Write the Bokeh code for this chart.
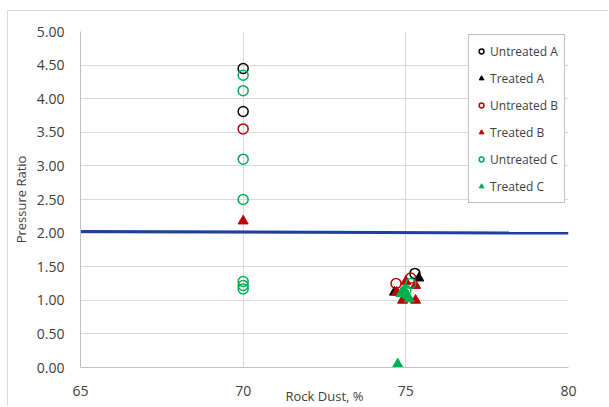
from bokeh.plotting import figure
from bokeh.models import Range1d, FixedTicker, Legend, LegendItem, CustomJSTickFormatter
from bokeh.embed import file_html
from bokeh.resources import INLINE

# ---- data ----
untreated_a_x = [70, 70, 75.28]
untreated_a_y = [4.45, 3.81, 1.40]
treated_a_x = [75.4, 74.65]
treated_a_y = [1.33, 1.12]
untreated_b_x = [70, 74.7, 75.15]
untreated_b_y = [3.55, 1.25, 1.33]
treated_b_x = [70, 75.0, 75.3, 74.72, 74.9, 75.3]
treated_b_y = [2.18, 1.28, 1.22, 1.12, 1.0, 1.0]
untreated_c_x = [70, 70, 70, 70, 70, 70, 70, 75.0, 75.15]
untreated_c_y = [4.35, 4.12, 3.10, 2.50, 1.28, 1.22, 1.17, 1.15, 1.25]
treated_c_x = [74.75, 74.85, 75.05, 75.1, 74.95]
treated_c_y = [0.05, 1.10, 1.07, 1.02, 1.16]
limit_x = [65, 80]
limit_y = [2.025, 2.0]
x_ticks = [65, 70, 75, 80]
y_ticks = [0, 0.5, 1.0, 1.5, 2.0, 2.5, 3.0, 3.5, 4.0, 4.5, 5.0]

FONT = "Open Sans"
TXT = "#404040"

# outer chart border drawn by CSS; canvas offset by 7px left / 10px top
p = figure(width=601, height=396, output_backend="svg", toolbar_location=None,
           x_range=Range1d(65, 80), y_range=Range1d(0, 5),
           min_border_left=70, min_border_right=41, min_border_top=20, min_border_bottom=40)
p.styles = {"margin-left": "7px", "margin-top": "10px",
            "border-left": "1px solid #d9d9d9", "border-top": "1px solid #d9d9d9"}
p.outline_line_color = None
p.background_fill_color = "white"
p.border_fill_color = "white"

p.xaxis.ticker = FixedTicker(ticks=x_ticks)
p.yaxis.ticker = FixedTicker(ticks=y_ticks)
p.yaxis.formatter = CustomJSTickFormatter(code="return tick.toFixed(2);")
p.xgrid.ticker = FixedTicker(ticks=x_ticks)
p.ygrid.ticker = FixedTicker(ticks=y_ticks)
p.grid.grid_line_color = "#d9d9d9"
p.grid.grid_line_width = 1

for ax in (p.xaxis, p.yaxis):
    ax.axis_line_color = "#bfbfbf"
    ax.major_tick_line_color = None
    ax.minor_tick_line_color = None
    ax.major_label_text_font = FONT
    ax.major_label_text_font_size = "14px"
    ax.major_label_text_color = TXT
    ax.axis_label_text_font = FONT
    ax.axis_label_text_font_size = "13px"
    ax.axis_label_text_font_style = "normal"
    ax.axis_label_text_color = TXT
p.yaxis.major_label_standoff = 10
p.xaxis.major_label_standoff = 12
p.xaxis.axis_label = "Rock Dust, %"
p.yaxis.axis_label = "Pressure Ratio"
p.xaxis.axis_label_standoff = -12
p.yaxis.axis_label_standoff = 4

p.line(limit_x, limit_y, line_color="#1f3f9f", line_width=3)

BLACK, RED, GREEN = "#000000", "#c00000", "#00b050"
r1 = p.scatter(untreated_a_x, untreated_a_y, marker="circle", size=10, fill_color=None,
               line_color=BLACK, line_width=1.5)
r2 = p.scatter(treated_a_x, treated_a_y, marker="triangle", size=10, fill_color=BLACK,
               line_color=BLACK)
r3 = p.scatter(untreated_b_x, untreated_b_y, marker="circle", size=10, fill_color=None,
               line_color=RED, line_width=1.5)
r4 = p.scatter(treated_b_x, treated_b_y, marker="triangle", size=10, fill_color=RED,
               line_color=RED)
r5 = p.scatter(untreated_c_x, untreated_c_y, marker="circle", size=10, fill_color=None,
               line_color=GREEN, line_width=1.5)
r6 = p.scatter(treated_c_x, treated_c_y, marker="triangle", size=10, fill_color=GREEN,
               line_color=GREEN)

legend = Legend(items=[
    LegendItem(label="Untreated A", renderers=[r1]),
    LegendItem(label="Treated A", renderers=[r2]),
    LegendItem(label="Untreated B", renderers=[r3]),
    LegendItem(label="Treated B", renderers=[r4]),
    LegendItem(label="Untreated C", renderers=[r5]),
    LegendItem(label="Treated C", renderers=[r6]),
], location="top_right")
legend.margin = 3
legend.padding = 6
legend.spacing = 7
legend.glyph_width = 12
legend.glyph_height = 20
legend.label_height = 20
legend.label_standoff = 3
legend.label_text_font = FONT
legend.label_text_font_size = "12px"
legend.label_text_color = TXT
legend.border_line_color = "#7f7f7f"
legend.border_line_width = 1
legend.background_fill_color = "white"
legend.background_fill_alpha = 1
p.add_layout(legend)

open("out.html", "w").write(file_html(p, INLINE))
